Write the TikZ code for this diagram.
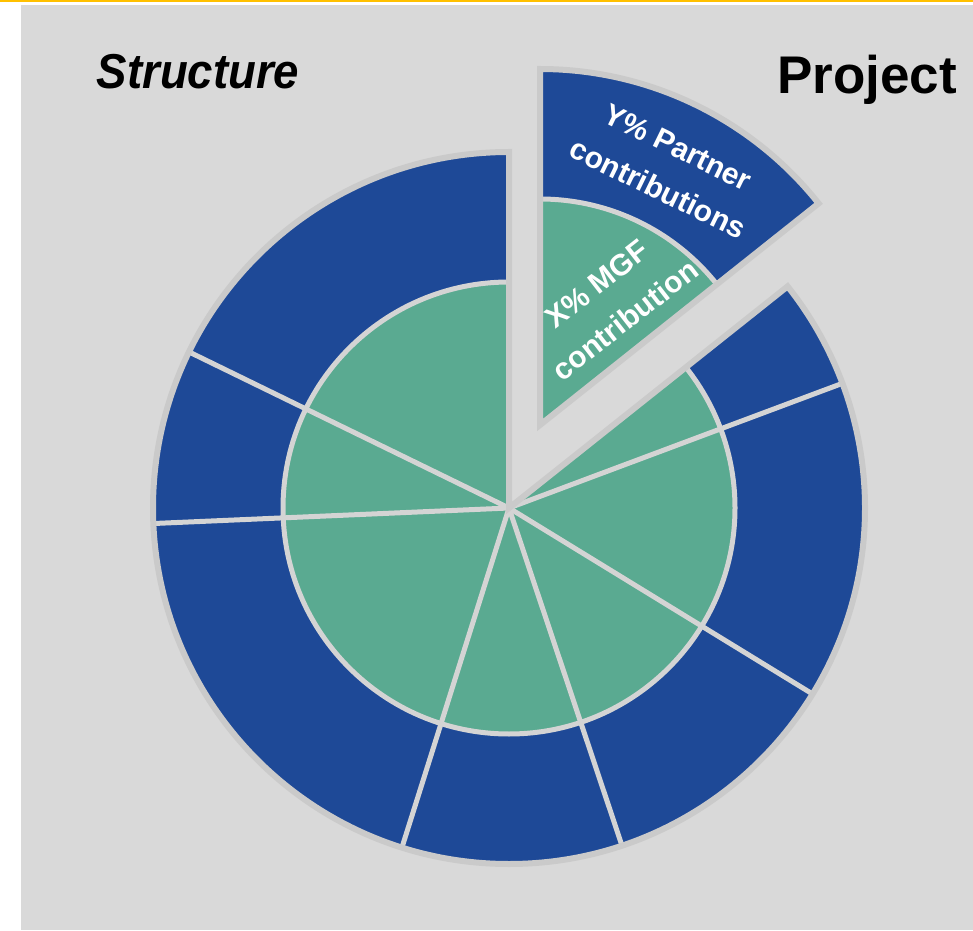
\documentclass[tikz,border=0pt]{standalone}
\usepackage{fontspec}
\usepackage{graphicx}
\setmainfont{Liberation Sans}
\definecolor{bg}{RGB}{217,217,217}
\definecolor{pblue}{RGB}{30,73,151}
\definecolor{pgreen}{RGB}{90,170,145}
\definecolor{sepgray}{RGB}{212,212,212}
\definecolor{rimgray}{RGB}{202,202,202}
\definecolor{topline}{RGB}{255,192,0}
\tikzset{
  sepline/.style={draw=sepgray, line width=5pt},
  rimline/.style={draw=rimgray, line width=6pt, line join=miter},
  wtext/.style={text=white, font=\bfseries\fontsize{30}{46}\selectfont, align=center, inner sep=0pt},
  title/.style={text=black, inner sep=0pt, anchor=base}
}
\begin{document}
\begin{tikzpicture}[x=1pt,y=1pt]
\useasboundingbox (0,0) rectangle (973,930);
\fill[white] (0,0) rectangle (973,930);
\fill[bg] (21,0) rectangle (973,925);
\fill[topline] (0,928) rectangle (973,930);
\coordinate (C) at (509,422);
\coordinate (A) at (540,505);
% main pie slices
\foreach \a/\b in {90/154,154/182.5,182.5/252.5,252.5/288.5,288.5/328.5,328.5/380.5,380.5/398.5}{
  \fill[pblue] (C) -- ++(\a:356pt) arc[start angle=\a,end angle=\b,radius=356pt] -- cycle;
  \fill[pgreen] (C) -- ++(\a:226pt) arc[start angle=\a,end angle=\b,radius=226pt] -- cycle;
}
\foreach \a in {154,182.5,252.5,288.5,328.5,380.5}{
  \draw[sepline] (C) -- ++(\a:356pt);
}
\draw[sepline] (C) ++(90:226pt) arc[start angle=90,end angle=398.5,radius=226pt];
\draw[rimline] (C) -- ++(90:356pt) arc[start angle=90,end angle=398.5,radius=356pt] -- cycle;
% exploded wedge
\fill[pblue] (A) -- ++(38.5:356pt) arc[start angle=38.5,end angle=90,radius=356pt] -- cycle;
\fill[pgreen] (A) -- ++(38.5:226pt) arc[start angle=38.5,end angle=90,radius=226pt] -- cycle;
\draw[sepline] (A) ++(38.5:226pt) arc[start angle=38.5,end angle=90,radius=226pt];
\draw[rimline] (A) -- ++(38.5:356pt) arc[start angle=38.5,end angle=90,radius=356pt] -- cycle;
% texts
\node[wtext, rotate=-26] (partner) at (668,762) {Y\% Partner\\contributions};
\node[wtext, rotate=38] (mgf) at (611,628) {X\% MGF\\contribution};
\node[title, font=\bfseries\itshape\fontsize{49}{54}\selectfont] (structure) at (198,841) {\scalebox{0.93}[1]{Structure}};
\node[title, font=\bfseries\fontsize{53}{58}\selectfont] (project) at (867,836) {Project};
\end{tikzpicture}
\end{document}
